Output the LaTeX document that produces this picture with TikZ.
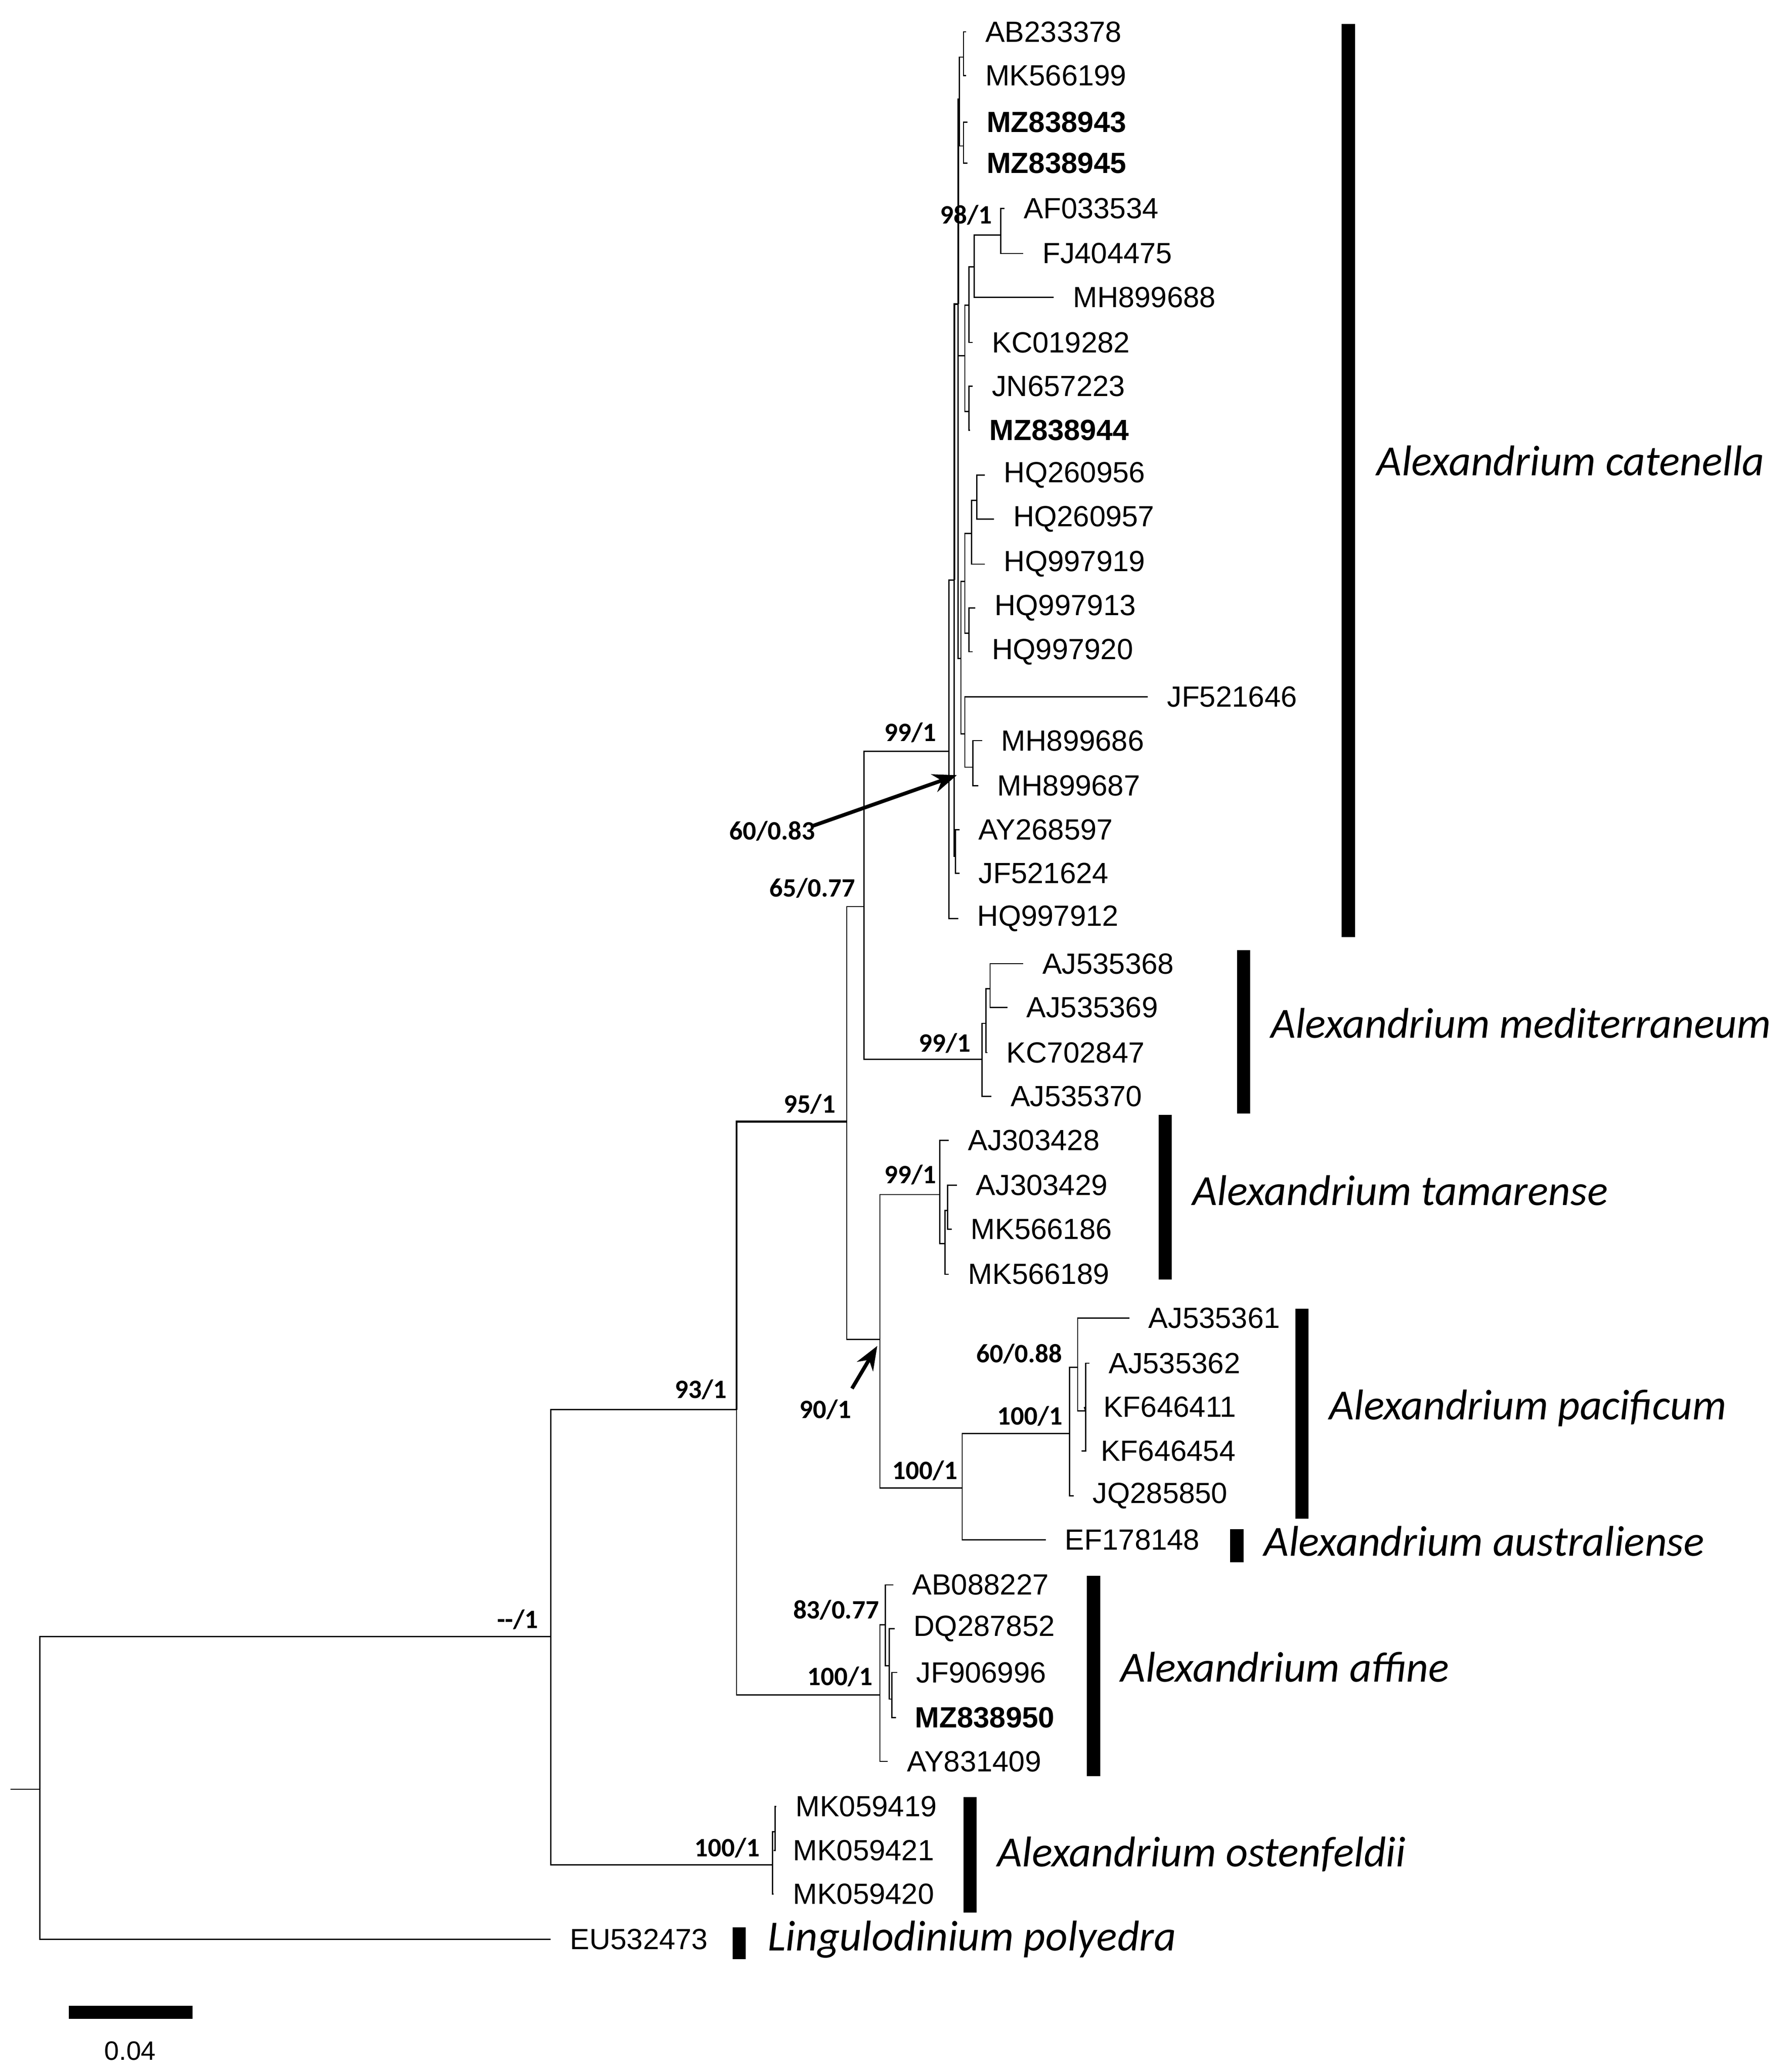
\documentclass[tikz,border=0pt]{standalone}
\usepackage{fontspec}
\setmainfont{Liberation Sans}
\newfontfamily\calib{Carlito}
\usetikzlibrary{arrows.meta}
\begin{document}
\begin{tikzpicture}[x=0.5pt,y=-0.5pt,line width=0.45pt,
  tip/.style={anchor=west,inner xsep=7pt,inner ysep=0pt,yshift=1.5pt,font=\fontsize{11}{11}\selectfont},
  btip/.style={tip,font=\fontsize{11}{11}\selectfont\bfseries},
  bs/.style={font=\calib\fontsize{10}{10}\selectfont\bfseries,inner sep=0pt},
  sp/.style={anchor=west,inner sep=0pt,yshift=1.5pt,font=\calib\fontsize{16.2}{16.2}\selectfont\itshape}]
\useasboundingbox (0,0) rectangle (1350,1561);
% internal nodes
\coordinate (s0) at (8,1348);
\coordinate (root) at (30,1348);
\coordinate (n415) at (415,1233);
\coordinate (n555) at (555,1062);
\coordinate (n582) at (582,1405);\coordinate (dd) at (584,1380);
\coordinate (n638) at (638,845);
\coordinate (n663a) at (663,1277);\coordinate (aa) at (667,1224);
\coordinate (bb) at (670,1255);\coordinate (cc) at (672,1280);
\coordinate (n651) at (651,683);
\coordinate (n663b) at (663,1009);
\coordinate (catA) at (715,566);\coordinate (catB) at (719,437);
\coordinate (catC) at (722,229);\coordinate (catP) at (723,75);
\coordinate (catP1) at (726,43);\coordinate (catP2) at (726,110);
\coordinate (catI) at (727,268);\coordinate (catJ) at (730,230);
\coordinate (catK) at (734,201);\coordinate (catL) at (754,177);
\coordinate (catM) at (730,310);\coordinate (catD) at (724,496);
\coordinate (catE) at (727,438);\coordinate (catF) at (732,402);
\coordinate (catG) at (736,377);\coordinate (catH) at (730,477);
\coordinate (catN) at (727,553);\coordinate (catO) at (733,578);
\coordinate (catQ) at (720,645);
\coordinate (medR) at (740,798);\coordinate (medS) at (743,771);\coordinate (medT) at (746,745);
\coordinate (tamU) at (708,900);\coordinate (tamV) at (712,937);\coordinate (tamW) at (714,912);
\coordinate (pacA) at (725,1121);\coordinate (pacX) at (806,1080);
\coordinate (pacY) at (812,1030);\coordinate (pacZ) at (818,1063);
% tips
\node[tip] (AB233378) at (728,27) {AB233378};
\node[tip] (MK566199) at (728,60) {MK566199};
\node[btip] (MZ838943) at (729,95) {MZ838943};
\node[btip] (MZ838945) at (729,126) {MZ838945};
\node[tip] (AF033534) at (757,160) {AF033534};
\node[tip] (FJ404475) at (771,194) {FJ404475};
\node[tip] (MH899688) at (794,227) {MH899688};
\node[tip] (KC019282) at (733,261) {KC019282};
\node[tip] (JN657223) at (733,294) {JN657223};
\node[btip] (MZ838944) at (731,327) {MZ838944};
\node[tip] (HQ260956) at (742,361) {HQ260956};
\node[tip] (HQ260957) at (749,394) {HQ260957};
\node[tip] (HQ997919) at (742,428) {HQ997919};
\node[tip] (HQ997913) at (735,461) {HQ997913};
\node[tip] (HQ997920) at (733,494) {HQ997920};
\node[tip] (JF521646) at (865,528) {JF521646};
\node[tip] (MH899686) at (740,561) {MH899686};
\node[tip] (MH899687) at (737,595) {MH899687};
\node[tip] (AY268597) at (723,628) {AY268597};
\node[tip] (JF521624) at (723,661) {JF521624};
\node[tip] (HQ997912) at (722,695) {HQ997912};
\node[tip] (AJ535368) at (771,729) {AJ535368};
\node[tip] (AJ535369) at (759,762) {AJ535369};
\node[tip] (KC702847) at (744,796) {KC702847};
\node[tip] (AJ535370) at (747,829) {AJ535370};
\node[tip] (AJ303428) at (715,862) {AJ303428};
\node[tip] (AJ303429) at (721,896) {AJ303429};
\node[tip] (MK566186) at (717,929) {MK566186};
\node[tip] (MK566189) at (715,963) {MK566189};
\node[tip] (AJ535361) at (851,996) {AJ535361};
\node[tip] (AJ535362) at (821,1030) {AJ535362};
\node[tip] (KF646411) at (817,1063) {KF646411};
\node[tip] (KF646454) at (815,1096) {KF646454};
\node[tip] (JQ285850) at (809,1130) {JQ285850};
\node[tip] (EF178148) at (788,1163) {EF178148};
\node[tip] (AB088227) at (673,1197) {AB088227};
\node[tip] (DQ287852) at (674,1230) {DQ287852};
\node[tip] (JF906996) at (676,1263) {JF906996};
\node[btip] (MZ838950) at (675,1297) {MZ838950};
\node[tip] (AY831409) at (669,1330) {AY831409};
\node[tip] (MK059419) at (585,1364) {MK059419};
\node[tip] (MK059421) at (583,1397) {MK059421};
\node[tip] (MK059420) at (583,1430) {MK059420};
\node[tip] (EU532473) at (415,1464) {EU532473};
% branches
\draw (s0) -- (root);
\draw (root) |- (n415); \draw (root) |- (EU532473.west);
\draw (n415) |- (n555); \draw (n415) |- (n582);
\draw (n582) |- (dd); \draw (n582) |- (MK059420.west);
\draw (dd) |- (MK059419.west); \draw (dd) |- (MK059421.west);
\draw[line width=0.8pt] (n555) |- (n638); \draw (n555) |- (n663a);
\draw (n663a) |- (aa); \draw (n663a) |- (AY831409.west);
\draw (aa) |- (AB088227.west); \draw (aa) |- (bb);
\draw (bb) |- (DQ287852.west); \draw (bb) |- (cc);
\draw (cc) |- (JF906996.west); \draw (cc) |- (MZ838950.west);
\draw (n638) |- (n651); \draw (n638) |- (n663b);
\draw (n651) |- (catA); \draw (n651) |- (medR);
\draw (catA) |- (catB); \draw (catA) |- (HQ997912.west);
\draw[line width=0.7pt] (catB) |- (catC); \draw (catB) |- (catQ);
\draw (catQ) |- (AY268597.west); \draw (catQ) |- (JF521624.west);
\draw[line width=0.7pt] (catC) |- (catP); \draw (catC) |- (catI); \draw (catC) |- (catD);
\draw (catP) |- (catP1); \draw (catP) |- (catP2);
\draw (catP1) |- (AB233378.west); \draw (catP1) |- (MK566199.west);
\draw (catP2) |- (MZ838943.west); \draw (catP2) |- (MZ838945.west);
\draw (catI) |- (catJ); \draw (catI) |- (catM);
\draw (catJ) |- (catK); \draw (catJ) |- (KC019282.west);
\draw (catK) |- (catL); \draw (catK) |- (MH899688.west);
\draw (catL) |- (AF033534.west); \draw (catL) |- (FJ404475.west);
\draw (catM) |- (JN657223.west); \draw (catM) |- (MZ838944.west);
\draw (catD) |- (catE); \draw (catD) |- (catN);
\draw (catE) |- (catF); \draw (catE) |- (catH);
\draw (catF) |- (catG); \draw (catF) |- (HQ997919.west);
\draw (catG) |- (HQ260956.west); \draw (catG) |- (HQ260957.west);
\draw (catH) |- (HQ997913.west); \draw (catH) |- (HQ997920.west);
\draw (catN) |- (JF521646.west); \draw (catN) |- (catO);
\draw (catO) |- (MH899686.west); \draw (catO) |- (MH899687.west);
\draw (medR) |- (medS); \draw (medR) |- (AJ535370.west);
\draw (medS) |- (medT); \draw (medS) |- (KC702847.west);
\draw (medT) |- (AJ535368.west); \draw (medT) |- (AJ535369.west);
\draw (n663b) |- (tamU); \draw (n663b) |- (pacA);
\draw (tamU) |- (AJ303428.west); \draw (tamU) |- (tamV);
\draw (tamV) |- (tamW); \draw (tamV) |- (MK566189.west);
\draw (tamW) |- (AJ303429.west); \draw (tamW) |- (MK566186.west);
\draw (pacA) |- (pacX); \draw (pacA) |- (EF178148.west);
\draw (pacX) |- (pacY); \draw (pacX) |- (JQ285850.west);
\draw (pacY) |- (AJ535361.west); \draw (pacY) |- (pacZ);
\draw (pacZ) |- (AJ535362.west); \draw (pacZ) -- (KF646411.west); \draw (pacZ) |- (KF646454.west);
% support values
\node[bs] (b1) at (728,162) {98/1};
\node[bs] (b2) at (686,552) {99/1};
\node[bs] (b3) at (582,626) {60/0.83};
\node[bs] (b4) at (612,669) {65/0.77};
\node[bs] (b5) at (712,786) {99/1};
\node[bs] (b6) at (610,832) {95/1};
\node[bs] (b7) at (686,885) {99/1};
\node[bs] (b8) at (768,1020) {60/0.88};
\node[bs] (b9) at (622,1062) {90/1};
\node[bs] (b10) at (776,1067) {100/1};
\node[bs] (b11) at (697,1108) {100/1};
\node[bs] (b12) at (528,1047) {93/1};
\node[bs] (b13) at (630,1213) {83/0.77};
\node[bs] (b14) at (633,1263) {100/1};
\node[bs] (b15) at (390,1220) {--/1};
\node[bs] (b16) at (548,1392) {100/1};
\coordinate (a1) at (721,584); \coordinate (a2) at (661,1014);
\draw[line width=1.4pt,-{Stealth[length=9pt,width=7pt]}] (b3.north east) ++(-2,4) -- (a1);
\draw[line width=1.4pt,-{Stealth[length=9pt,width=7pt]}] (b9.north east) ++(0,-8) -- (a2);
% species bars
\fill (1011,18) rectangle (1021,706);
\fill (932,716) rectangle (942,839);
\fill (873,840) rectangle (883,964);
\fill (976,986) rectangle (986,1144);
\fill (927,1152) rectangle (937,1177);
\fill (819,1187) rectangle (829,1338);
\fill (726,1354) rectangle (736,1441);
\fill (552,1452) rectangle (562,1476);
\node[sp] (spcat) at (1037,350) {Alexandrium catenella};
\node[sp] (spmed) at (957,774) {Alexandrium mediterraneum};
\node[sp] (sptam) at (898,900) {Alexandrium tamarense};
\node[sp] (sppac) at (1001,1064) {Alexandrium pacificum};
\node[sp] (spaus) at (952,1164) {Alexandrium australiense};
\node[sp] (spaff) at (844,1259) {Alexandrium affine};
\node[sp] (spost) at (751,1400) {Alexandrium ostenfeldii};
\node[sp] (splin) at (578,1464) {Lingulodinium polyedra};
% scale
\fill (52,1511) rectangle (145,1521);
\node[font=\fontsize{10}{10}\selectfont] (scl) at (98,1545) {0.04};
\end{tikzpicture}
\end{document}
